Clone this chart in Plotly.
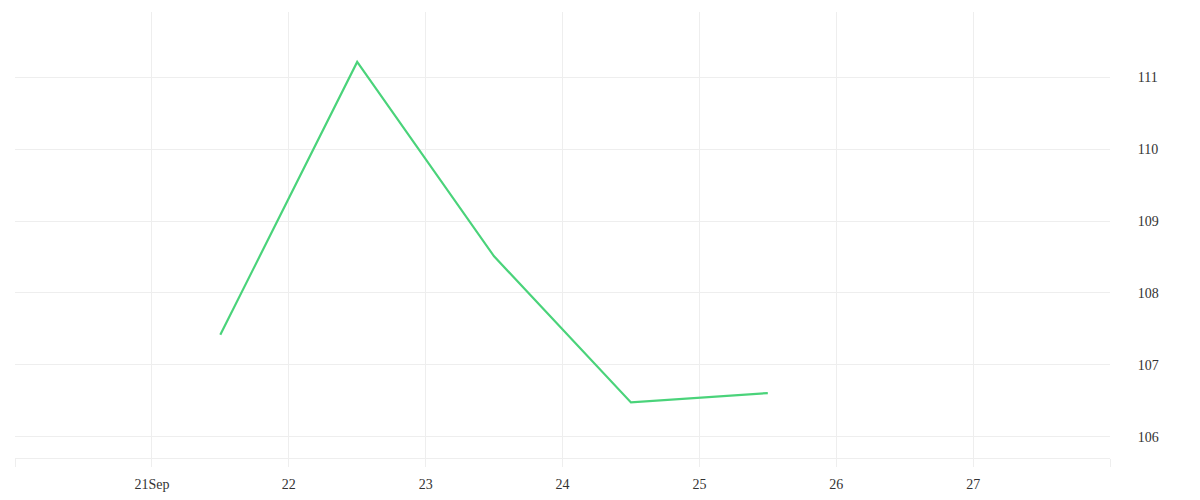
import plotly.graph_objects as go

dates = ["2023-09-21 12:00", "2023-09-22 12:00", "2023-09-23 12:00",
         "2023-09-24 12:00", "2023-09-25 12:00"]
values = [107.42, 111.21, 108.51, 106.48, 106.61]

tick_dates = ["2023-09-20", "2023-09-21", "2023-09-22", "2023-09-23", "2023-09-24",
              "2023-09-25", "2023-09-26", "2023-09-27", "2023-09-28"]
tick_labels = ["", "21Sep", "22", "23", "24", "25", "26", "27", ""]

grid = "#eeeeee"

fig = go.Figure()
fig.add_trace(
    go.Scatter(x=dates, y=values, mode="lines",
               line=dict(color="#4ad37a", width=2.2))
)
fig.update_layout(
    width=1200, height=500,
    margin=dict(l=7, r=98, t=4, b=50),
    paper_bgcolor="white", plot_bgcolor="white",
    showlegend=False,
    font=dict(family="Liberation Serif", size=14, color="#333333"),
    xaxis=dict(
        range=["2023-09-20", "2023-09-28"],
        tickvals=tick_dates, ticktext=tick_labels,
        showgrid=True, gridcolor=grid, gridwidth=1,
        ticks="outside", ticklen=8, tickcolor=grid,
        ticklabelstandoff=5,
        showline=True, linecolor=grid, linewidth=1,
        zeroline=False,
    ),
    yaxis=dict(
        side="right",
        range=[105.708, 111.903],
        dtick=1,
        showgrid=True, gridcolor=grid, gridwidth=1,
        ticks="outside", ticklen=8, tickcolor="rgba(0,0,0,0)",
        ticklabelstandoff=16,
        zeroline=False, showline=False,
    ),
)
fig.write_html("out.html")
